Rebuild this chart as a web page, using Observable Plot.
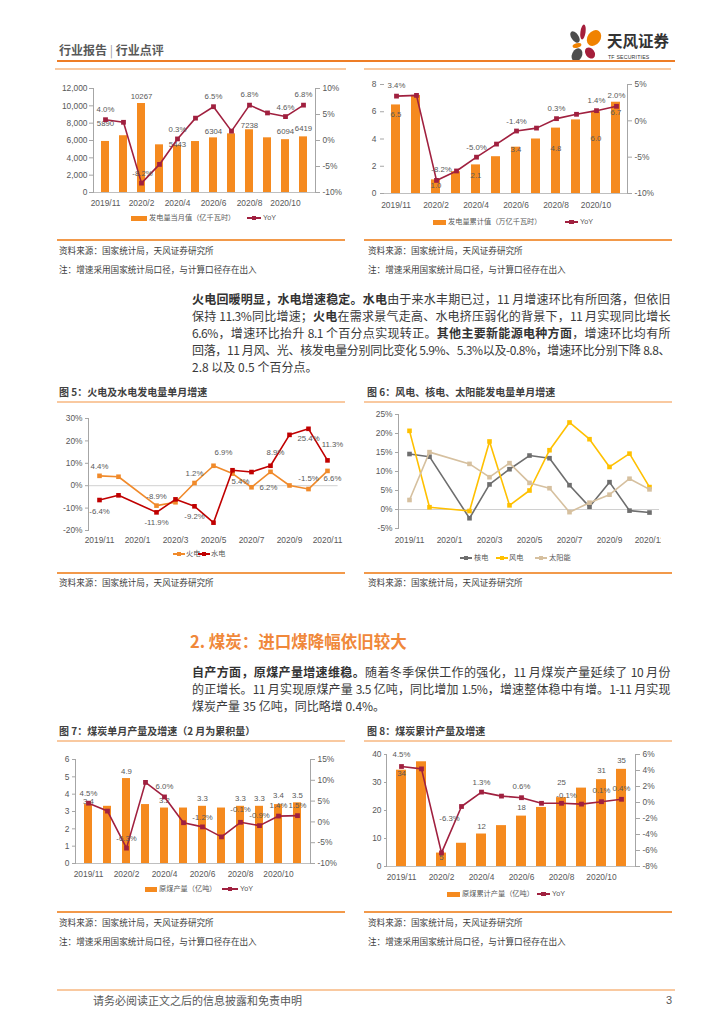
<!DOCTYPE html>
<html><head><meta charset="utf-8">
<script src="https://cdn.jsdelivr.net/npm/d3@7"></script>
<script src="https://cdn.jsdelivr.net/npm/@observablehq/plot@0.6"></script>
<style>
html,body{margin:0;padding:0;background:#fff;}
#page{position:relative;width:724px;height:1024px;overflow:hidden;background:#fff;font-family:"Noto Sans CJK SC",sans-serif;color:#404040;}
#page > *{position:absolute;}
.para{left:192px;width:478px;font-size:12px;line-height:17px;height:17px;white-space:nowrap;text-align:justify;text-align-last:justify;color:#3a3a3a;letter-spacing:-0.5px;}
.para.last{text-align-last:left;letter-spacing:0;}
.para b{font-weight:bold;color:#333;}
</style></head><body><div id="page"></div>
<script>
// ---------------- data ----------------
const monthsA = ["2019/11","2019/12","2020/2","2020/3","2020/4","2020/5","2020/6","2020/7","2020/8","2020/9","2020/10","2020/11"];
const months13 = ["2019/11","2019/12","2020/1","2020/2","2020/3","2020/4","2020/5","2020/6","2020/7","2020/8","2020/9","2020/10","2020/11"];
const ticksA = ["2019/11","2020/2","2020/4","2020/6","2020/8","2020/10"];
const ticks13 = ["2019/11","2020/1","2020/3","2020/5","2020/7","2020/9","2020/11"];

const genMonth = [5890, 6550, 10267, 5500, 5443, 5880, 6304, 6770, 7238, 6310, 6094, 6419];
const genMonthYoY = [4.0, 3.5, -8.2, -4.6, 0.3, 4.3, 6.5, 1.8, 6.8, 5.3, 4.6, 6.8];
const genCum = [6.5, 7.2, 1.0, 1.6, 2.1, 2.7, 3.4, 4.0, 4.8, 5.4, 6.0, 6.7];
const genCumYoY = [3.4, 3.5, -8.2, -6.9, -5.0, -3.2, -1.4, -1.0, 0.3, 0.9, 1.4, 2.0];
const thermalYoY = [4.4, 4.0, -8.9, -7.4, 1.2, 8.9, 5.4, -0.7, 6.2, 0.1, -1.5, 6.6];
const hydroYoY = [-6.4, -4.3, -11.9, -6.1, -9.2, -16.5, 6.9, 6.1, 8.9, 22.7, 25.4, 11.3];
const nuclearYoY = [14.6, 13.9, -2.3, 6.6, 10.6, 14.2, 13.5, 6.4, 0.7, 7.2, -0.3, -0.8];
const windYoY = [20.7, 0.6, -0.4, 17.9, 1.1, 5.0, 15.6, 22.9, 18.5, 11.2, 14.7, 5.9];
const solarYoY = [2.5, 15.1, 12.0, 8.5, 12.2, 7.0, 5.6, -0.7, 1.8, 3.9, 8.1, 5.3];
const coalMonth = [3.4, 3.3, 4.9, 3.4, 3.2, 3.2, 3.3, 3.2, 3.3, 3.3, 3.4, 3.5];
const coalMonthYoY = [4.5, 2.6, -6.3, 9.5, 6.0, -0.2, -1.2, -3.6, -0.1, -0.9, 1.4, 1.5];
const coalCum = [34.4, 37.4, 4.8, 8.3, 11.6, 14.6, 18.0, 21.1, 24.6, 28.0, 31.0, 34.7];
const coalCumYoY = [4.5, 4.2, -6.3, -0.5, 1.3, 0.8, 0.6, -0.1, -0.1, -0.2, 0.1, 0.4];

// ---------------- styles ----------------
const BAR = "#F58A1F", LINE = "#A0203F", AXC = "#A6A6A6", BASE = "#BFBFBF", ZERO = "#D0D0D0", TXT = "#595959";
const HDR = "#EE7D26", BOT = "#F2994A", LIGHT = "#F9C9A0";
const NUMF = '"Liberation Sans",Arial,sans-serif';
const MIXF = '"Liberation Sans","Noto Sans CJK SC",sans-serif';
const page = document.getElementById("page");

function add(tag, css, html) {
  const e = document.createElement(tag);
  e.style.cssText = css;
  if (html != null) e.innerHTML = html;
  page.appendChild(e);
  return e;
}
function txt(s, x, cy, fs, css = "") {
  return add("div", `left:${x}px;top:${(cy - fs * 0.55).toFixed(1)}px;font-size:${fs}px;line-height:${fs}px;white-space:nowrap;${css}`, s);
}
function hline(x1, x2, y, color, w) {
  add("div", `left:${x1}px;top:${y - w / 2}px;width:${x2 - x1}px;height:${w}px;background:${color}`);
}
function mount(svg, left, top, w, h, clip) {
  const d = add("div", `left:${left}px;top:${top}px;width:${w}px;height:${h}px;overflow:${clip ? "hidden" : "visible"}`);
  svg.style.maxWidth = "none";
  d.appendChild(svg);
}
function legBar(x, cy, w, label, tx) {
  add("div", `left:${x}px;top:${cy - 2.5}px;width:${w}px;height:5px;background:${BAR}`);
  txt(label, tx, cy, 7.2, `font-family:${MIXF};color:${TXT}`);
}
function legLine(x, cy, w, color, label, tx) {
  add("div", `left:${x}px;top:${cy - 0.8}px;width:${w}px;height:1.6px;background:${color}`);
  add("div", `left:${x + w / 2 - 2.3}px;top:${cy - 2.3}px;width:4.6px;height:4.6px;background:${color}`);
  txt(label, tx, cy, 7.2, `font-family:${MIXF};color:${TXT}`);
}
const AXFS = "8.4px";

// ---------------- dual axis bar + line chart ----------------
function dualChart(o) {
  const rows = monthsA.map((m, i) => ({m, v: o.bars[i], r: o.yoy[i]}));
  const base = {
    width: o.w, height: o.h, marginLeft: o.mL, marginRight: o.mR, marginTop: o.mT, marginBottom: o.mB,
    style: {background: "transparent", color: TXT, fontFamily: NUMF, fontSize: AXFS, overflow: "visible"}
  };
  const labels = (spec, key, fmt) => Object.entries(spec).map(([m, [dx, dy]]) =>
    Plot.text(rows.filter(d => d.m === m), {x: "m", y: key, text: d => fmt(d[key]), dx, dy, fontSize: 7.8, fill: TXT}));
  const A = Plot.plot({
    ...base,
    x: {type: "band", domain: monthsA, paddingInner: o.pad, paddingOuter: o.pad / 2},
    y: {domain: o.yDom},
    marks: [
      Plot.barY(rows, {x: "m", y: "v", fill: BAR}),
      Plot.ruleY([0], {stroke: BASE}),
      Plot.axisY({ticks: o.yTicks, tickFormat: o.yFmt, tickSize: o.yts, tickPadding: o.ytp, stroke: AXC, label: null}),
      o.leftLine ? Plot.frame({anchor: "left", stroke: AXC}) : null,
      Plot.axisX({ticks: ticksA, tickSize: 0, tickPadding: o.xtp, label: null}),
      ...labels(o.barLabels, "v", o.barFmt)
    ].filter(Boolean)
  });
  const B = Plot.plot({
    ...base,
    x: {type: "point", domain: monthsA, padding: 0.5, axis: null},
    y: {domain: o.y2Dom},
    marks: [
      Plot.frame({anchor: "right", stroke: AXC}),
      Plot.axisY({anchor: "right", ticks: o.y2Ticks, tickFormat: d => d + "%", tickSize: 4, tickPadding: 3, stroke: AXC, label: null}),
      Plot.line(rows, {x: "m", y: "r", stroke: LINE, strokeWidth: 1.6}),
      Plot.dot(rows, {x: "m", y: "r", symbol: "square", r: 2.7, fill: LINE}),
      ...labels(o.lineLabels, "r", d => d.toFixed(1) + "%")
    ]
  });
  mount(A, o.left, o.top, o.w, o.h);
  mount(B, o.left, o.top, o.w, o.h);
}

// ---------------- multi line chart ----------------
function lineChart(o) {
  const marks = [
    Plot.ruleY([0], {stroke: ZERO}),
    Plot.frame({anchor: "left", stroke: AXC}),
    Plot.axisY({ticks: o.yTicks, tickFormat: d => d + "%", tickSize: 3, tickPadding: 3, stroke: AXC, label: null}),
    Plot.axisX({ticks: ticks13, tickSize: 0, tickPadding: o.xtp, label: null})
  ];
  for (const s of o.series) {
    const rows = monthsA.map((m, i) => ({m, v: s.vals[i]}));
    marks.push(Plot.line(rows, {x: "m", y: "v", stroke: s.color, strokeWidth: 1.6}));
    marks.push(Plot.dot(rows, {x: "m", y: "v", symbol: "square", r: 2.6, fill: s.color}));
    for (const [m, [dx, dy]] of Object.entries(s.labels || {})) {
      marks.push(Plot.text(rows.filter(d => d.m === m), {x: "m", y: "v", text: d => d.v.toFixed(1) + "%", dx, dy, fontSize: 7.8, fill: TXT}));
    }
  }
  const svg = Plot.plot({
    width: o.w, height: o.h, marginLeft: o.mL, marginRight: o.mR, marginTop: o.mT, marginBottom: o.mB,
    style: {background: "transparent", color: TXT, fontFamily: NUMF, fontSize: AXFS, overflow: o.clip ? "hidden" : "visible"},
    x: {type: "point", domain: months13, padding: 0.5},
    y: {domain: o.yDom},
    marks
  });
  mount(svg, o.left, o.top, o.w, o.h, o.clip);
}

// ---------------- header ----------------
txt('行业报告 <span style="font-weight:normal;color:#9a9a9a">|</span> 行业点评', 59, 51, 12, "font-weight:bold;color:#595959");
add("div", "left:566px;top:20px;width:44px;height:44px",
  `<svg width="44" height="44" viewBox="0 0 44 44">
    <ellipse cx="17" cy="12" rx="2.6" ry="7.5" fill="#A51E3B" transform="rotate(8 17 12)"/>
    <ellipse cx="28" cy="18" rx="6.5" ry="8.5" fill="#F08200" transform="rotate(35 28 18)"/>
    <ellipse cx="9" cy="17" rx="3.6" ry="6.5" fill="#4D4D4D" transform="rotate(-35 9 17)"/>
    <ellipse cx="11" cy="25.5" rx="4.5" ry="2.3" fill="#F08200" transform="rotate(-15 11 25.5)"/>
    <ellipse cx="24" cy="33" rx="4.5" ry="6" fill="#A51E3B" transform="rotate(-35 24 33)"/>
    <ellipse cx="11" cy="35" rx="5" ry="7" fill="#4D4D4D" transform="rotate(25 11 35)"/>
  </svg>`);
txt("天风证券", 607, 41, 15.5, "font-weight:bold;color:#333");
txt("TF SECURITIES", 608, 57.5, 5.2, `font-family:${NUMF};color:#333;letter-spacing:0.2px`);
hline(57, 675, 61, HDR, 1.6);

// ---------------- row 1 ----------------
hline(55, 346, 69, LIGHT, 1.6); hline(364, 671, 69, LIGHT, 1.6);
dualChart({
  left: 57, top: 70, w: 290, h: 145, mL: 36, mR: 32, mT: 18, mB: 23, pad: 0.58,
  bars: genMonth, yoy: genMonthYoY, yDom: [0, 12000], yTicks: d3.range(0, 12001, 2000), yFmt: d3.format(","),
  yts: 4, ytp: 2, leftLine: true, xtp: 7.7,
  y2Dom: [-10, 10], y2Ticks: [-10, -5, 0, 5, 10],
  barFmt: d => String(d),
  barLabels: {"2019/11": [0, -18], "2020/2": [0, -7], "2020/4": [0, -1], "2020/6": [0, -6], "2020/8": [0, -4], "2020/10": [0, -8], "2020/11": [0, -8]},
  lineLabels: {"2019/11": [0, -10], "2020/2": [1, -10], "2020/4": [0, -9], "2020/6": [0, -10], "2020/8": [0, -11], "2020/10": [0, -9], "2020/11": [0, -11]}
});
legBar(131, 218, 16, "发电量当月值（亿千瓦时）", 149);
legLine(247, 218, 14, LINE, "YoY", 263);

dualChart({
  left: 364, top: 70, w: 308, h: 145, mL: 20, mR: 45, mT: 14, mB: 22, pad: 0.54,
  bars: genCum, yoy: genCumYoY, yDom: [0, 8], yTicks: [0, 2, 4, 6, 8], yFmt: d => String(d),
  yts: 4, ytp: 4, leftLine: false, xtp: 8.7,
  y2Dom: [-10, 5], y2Ticks: [-10, -5, 0, 5],
  barFmt: d => d.toFixed(1),
  barLabels: {"2019/11": [0, 10], "2020/2": [0, 6], "2020/4": [0, 11], "2020/6": [0, 2], "2020/8": [0, 20], "2020/10": [0, 27], "2020/11": [0, 10]},
  lineLabels: {"2019/11": [0, -11], "2020/2": [5, -11], "2020/4": [0, -10], "2020/6": [0, -10], "2020/8": [0, -10], "2020/10": [0, -10], "2020/11": [0, -11]}
});
legBar(433, 222, 13, "发电量累计值（万亿千瓦时）", 448);
legLine(565, 222, 13, LINE, "YoY", 580);

hline(57, 345, 240, BOT, 1.3); hline(364, 672, 240, BOT, 1.3);
txt("资料来源：国家统计局，天风证券研究所", 59, 251, 8.6, "color:#404040");
txt("注：增速采用国家统计局口径，与计算口径存在出入", 59, 270, 8.6, "color:#404040");
txt("资料来源：国家统计局，天风证券研究所", 368, 251, 8.6, "color:#404040");
txt("注：增速采用国家统计局口径，与计算口径存在出入", 368, 270, 8.6, "color:#404040");

// ---------------- paragraph 1 ----------------
const para1 = [
  "<b>火电回暖明显，水电增速稳定。水电</b>由于来水丰期已过，11 月增速环比有所回落，但依旧",
  "保持 11.3%同比增速；<b>火电</b>在需求景气走高、水电挤压弱化的背景下，11 月实现同比增长",
  "6.6%，增速环比抬升 8.1 个百分点实现转正。<b>其他主要新能源电种方面</b>，增速环比均有所",
  "回落，11 月风、光、核发电量分别同比变化 5.9%、5.3%以及-0.8%，增速环比分别下降 8.8、",
  "2.8 以及 0.5 个百分点。"
];
para1.forEach((s, i) => {
  const d = add("div", `top:${298 + i * 17 - 8.5}px`, s);
  d.className = "para" + (i === para1.length - 1 ? " last" : "");
});

// ---------------- row 2 ----------------
txt("图 5：火电及水电发电量单月增速", 59, 392, 10, "font-weight:bold;color:#404040");
txt("图 6：风电、核电、太阳能发电量单月增速", 367, 392, 10, "font-weight:bold;color:#404040");
hline(57, 345, 402, LIGHT, 1.6); hline(364, 672, 402, LIGHT, 1.6);

lineChart({
  left: 57, top: 405, w: 290, h: 145, mL: 31, mR: 9.4, mT: 13, mB: 20, xtp: 6.7,
  yDom: [-20, 30], yTicks: [-20, -10, 0, 10, 20, 30],
  series: [
    {vals: thermalYoY, color: "#F08A2B",
     labels: {"2019/11": [0, -9], "2020/2": [0, -9], "2020/4": [0, -10], "2020/6": [8, 8], "2020/8": [-2, 16], "2020/10": [0, -11], "2020/11": [5, 8]}},
    {vals: hydroYoY, color: "#C00000",
     labels: {"2019/11": [0, 11], "2020/2": [0, 10], "2020/4": [0, 10], "2020/6": [-9, -18], "2020/8": [5, -13], "2020/10": [0, 10], "2020/11": [5, -16]}}
  ]
});
legLine(173, 554, 12, "#F08A2B", "火电", 186);
legLine(198, 554, 12, "#C00000", "水电", 211);

lineChart({
  left: 364, top: 405, w: 297, h: 145, mL: 34, mR: 2, mT: 9, mB: 22, xtp: 8.7, clip: true,
  yDom: [-5, 25], yTicks: [-5, 0, 5, 10, 15, 20, 25],
  series: [
    {vals: nuclearYoY, color: "#6E6E6E"},
    {vals: windYoY, color: "#FFC000"},
    {vals: solarYoY, color: "#D6C09F"}
  ]
});
legLine(460, 558, 12, "#6E6E6E", "核电", 474);
legLine(496, 558, 12, "#FFC000", "风电", 509);
legLine(535, 558, 12, "#D6C09F", "太阳能", 549);

hline(57, 345, 573, BOT, 1.3); hline(364, 672, 573, BOT, 1.3);
txt("资料来源：国家统计局，天风证券研究所", 59, 583, 8.6, "color:#404040");
txt("资料来源：国家统计局，天风证券研究所", 368, 583, 8.6, "color:#404040");

// ---------------- section 2 ----------------
txt("2. 煤炭：进口煤降幅依旧较大", 190, 642, 16.5, "font-weight:bold;color:#F0883A");
const para2 = [
  "<b>自产方面，原煤产量增速维稳。</b>随着冬季保供工作的强化，11 月煤炭产量延续了 10 月份",
  "的正增长。11 月实现原煤产量 3.5 亿吨，同比增加 1.5%，增速整体稳中有增。1-11 月实现",
  "煤炭产量 35 亿吨，同比略增 0.4%。"
];
para2.forEach((s, i) => {
  const d = add("div", `top:${671 + i * 17 - 8.5}px`, s);
  d.className = "para" + (i === para2.length - 1 ? " last" : "");
});

// ---------------- row 3 ----------------
txt("图 7：煤炭单月产量及增速（2 月为累积量）", 59, 731, 10, "font-weight:bold;color:#404040");
txt("图 8：煤炭累计产量及增速", 367, 731, 10, "font-weight:bold;color:#404040");
hline(57, 345, 741, LIGHT, 1.6); hline(364, 672, 741, LIGHT, 1.6);

dualChart({
  left: 57, top: 745, w: 290, h: 135, mL: 18, mR: 37, mT: 14, mB: 17, pad: 0.56,
  bars: coalMonth, yoy: coalMonthYoY, yDom: [0, 6], yTicks: [0, 1, 2, 3, 4, 5, 6], yFmt: d => String(d),
  yts: 3, ytp: 3, leftLine: true, xtp: 7.7,
  y2Dom: [-10, 15], y2Ticks: [-10, -5, 0, 5, 10, 15],
  barFmt: d => d.toFixed(1),
  barLabels: {"2019/11": [0, -3], "2020/2": [0, -7], "2020/4": [0, -8], "2020/6": [0, -8], "2020/8": [0, -8], "2020/9": [0, -8], "2020/10": [0, -9], "2020/11": [0, -7]},
  lineLabels: {"2019/11": [0, -10], "2020/2": [0, -10], "2020/4": [0, -10], "2020/6": [0, -9], "2020/8": [0, -13], "2020/9": [0, -10], "2020/10": [0, -11], "2020/11": [0, -10]}
});
legBar(145, 889, 12, "原煤产量（亿吨）", 159);
legLine(222, 889, 16, LINE, "YoY", 240);

dualChart({
  left: 364, top: 745, w: 308, h: 140, mL: 22, mR: 37, mT: 9, mB: 19, pad: 0.52,
  bars: coalCum, yoy: coalCumYoY, yDom: [0, 40], yTicks: [0, 10, 20, 30, 40], yFmt: d => String(d),
  yts: 2, ytp: 3, leftLine: true, xtp: 7.7,
  y2Dom: [-8, 6], y2Ticks: [-8, -6, -4, -2, 0, 2, 4, 6],
  barFmt: d => d.toFixed(0),
  barLabels: {"2019/11": [0, 3], "2020/2": [0, 4], "2020/4": [0, -8], "2020/6": [0, -9], "2020/8": [0, -15], "2020/10": [0, -9], "2020/11": [0, -9]},
  lineLabels: {"2019/11": [0, -12], "2020/2": [8, -34], "2020/4": [0, -10], "2020/6": [0, -11], "2020/8": [5, -8], "2020/10": [0, -11], "2020/11": [0, -11]}
});
legBar(447, 894, 13, "原煤累计产量（亿吨）", 462);
legLine(537, 894, 13, LINE, "YoY", 552);

hline(57, 345, 912, BOT, 1.3); hline(364, 672, 912, BOT, 1.3);
txt("资料来源：国家统计局，天风证券研究所", 59, 923, 8.6, "color:#404040");
txt("注：增速采用国家统计局口径，与计算口径存在出入", 59, 942, 8.6, "color:#404040");
txt("资料来源：国家统计局，天风证券研究所", 368, 923, 8.6, "color:#404040");
txt("注：增速采用国家统计局口径，与计算口径存在出入", 368, 942, 8.6, "color:#404040");

// ---------------- footer ----------------
hline(57, 675, 990, LIGHT, 1.6);
txt("请务必阅读正文之后的信息披露和免责申明", 93, 1001, 11, "color:#595959");
txt("3", 666, 1001, 11, `font-family:${NUMF};color:#595959`);
</script></body></html>
